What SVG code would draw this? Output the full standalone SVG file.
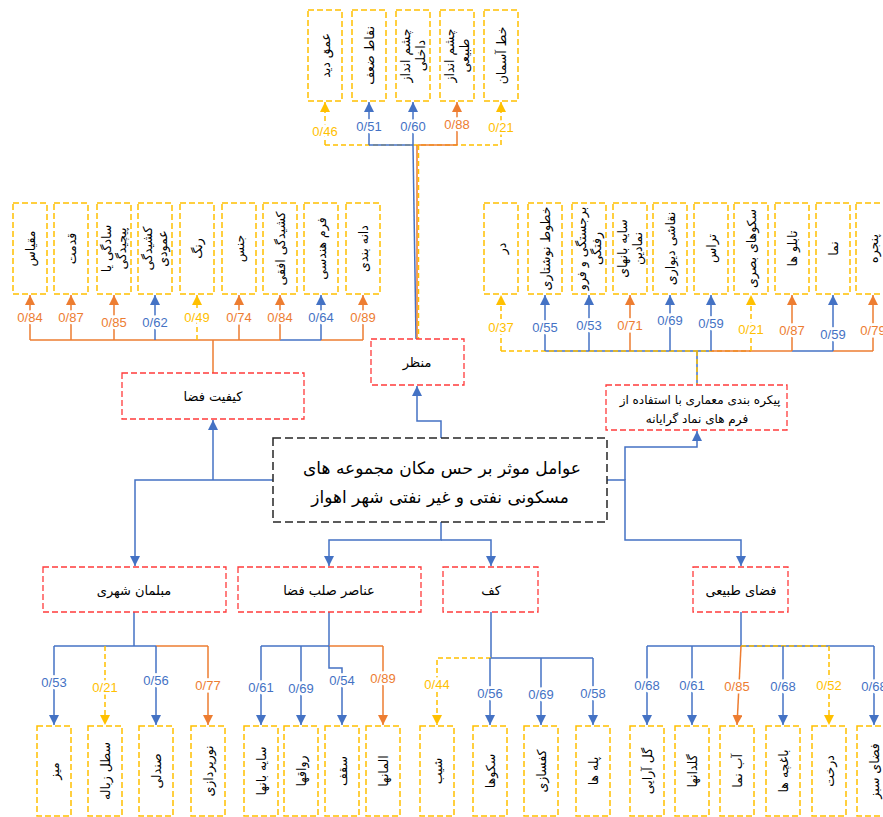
<svg xmlns="http://www.w3.org/2000/svg" width="883" height="817" viewBox="0 0 883 817">
<style>
.yb{fill:#fff;stroke:#FFC000;stroke-width:1.5;stroke-dasharray:6 3}
.rb{fill:#fff;stroke:#FF3B3B;stroke-width:1.3;stroke-dasharray:6 3}
.mb{fill:#fff;stroke:#262626;stroke-width:1.5;stroke-dasharray:8 4}
.b,.o,.y{fill:none;stroke-width:1.5}
.b{stroke:#4472C4}
.o{stroke:#ED7D31}
.y{stroke:#FFC000;stroke-dasharray:5 3}
.lbl{font-family:"Liberation Sans",Arial,sans-serif;font-size:13px;text-anchor:middle;paint-order:stroke;stroke:#fff;stroke-width:5px}
.lb{fill:#4472C4}.lo{fill:#ED7D31}.ly{fill:#FFC000}
.vt{font-family:"DejaVu Sans",sans-serif;font-size:12.5px;text-anchor:middle;fill:#000}
.ct{font-family:"DejaVu Sans",sans-serif;font-size:13px;text-anchor:middle;fill:#000}
.pt{font-family:"DejaVu Sans",sans-serif;font-size:12px;text-anchor:middle;fill:#000}
.mt{font-family:"DejaVu Sans",sans-serif;font-size:17px;text-anchor:middle;fill:#000}
</style>
<defs>
<marker id="ab" viewBox="0 0 10 10" refX="10" refY="5" markerWidth="10" markerHeight="10" markerUnits="userSpaceOnUse" orient="auto"><path d="M0,0L10,5L0,10z" fill="#4472C4"/></marker>
<marker id="ao" viewBox="0 0 10 10" refX="10" refY="5" markerWidth="10" markerHeight="10" markerUnits="userSpaceOnUse" orient="auto"><path d="M0,0L10,5L0,10z" fill="#ED7D31"/></marker>
<marker id="ay" viewBox="0 0 10 10" refX="10" refY="5" markerWidth="10" markerHeight="10" markerUnits="userSpaceOnUse" orient="auto"><path d="M0,0L10,5L0,10z" fill="#FFC000"/></marker>
</defs>
<rect width="883" height="817" fill="#fff"/>

<g id="connectors">
<path class="y" d="M325,145H501"/>
<path class="b" d="M369,145H413"/>
<path class="o" d="M418,145H457"/>
<path class="y" d="M325,145V102" marker-end="url(#ay)"/>
<path class="b" d="M369,145V102" marker-end="url(#ab)"/>
<path class="b" d="M413,145V102" marker-end="url(#ab)"/>
<path class="o" d="M457,145V102" marker-end="url(#ao)"/>
<path class="y" d="M501,145V102" marker-end="url(#ay)"/>
<path class="b" d="M413,145L416,339"/>
<path class="o" d="M417,145V339"/>
<path class="y" d="M418.5,145V339"/>
<path class="o" d="M30,340H280"/>
<path class="b" d="M280,340H321"/>
<path class="o" d="M321,340H363"/>
<path class="o" d="M30,340V295" marker-end="url(#ao)"/>
<path class="o" d="M71,340V295" marker-end="url(#ao)"/>
<path class="o" d="M114,340V295" marker-end="url(#ao)"/>
<path class="b" d="M155,340V295" marker-end="url(#ab)"/>
<path class="y" d="M197,340V295" marker-end="url(#ay)"/>
<path class="o" d="M239,340V295" marker-end="url(#ao)"/>
<path class="o" d="M280,340V295" marker-end="url(#ao)"/>
<path class="b" d="M321,340V295" marker-end="url(#ab)"/>
<path class="o" d="M363,340V295" marker-end="url(#ao)"/>
<path class="o" d="M213,340V373"/>
<path class="b" d="M545,351H711"/>
<path class="y" d="M501,351H751"/>
<path class="o" d="M711,351H792"/>
<path class="b" d="M792,351H833"/>
<path class="o" d="M833,351H873"/>
<path class="y" d="M501,351V295" marker-end="url(#ay)"/>
<path class="b" d="M545,351V295" marker-end="url(#ab)"/>
<path class="b" d="M589,351V295" marker-end="url(#ab)"/>
<path class="o" d="M630,351V295" marker-end="url(#ao)"/>
<path class="b" d="M670,351V295" marker-end="url(#ab)"/>
<path class="b" d="M711,351V295" marker-end="url(#ab)"/>
<path class="y" d="M751,351V295" marker-end="url(#ay)"/>
<path class="o" d="M792,351V295" marker-end="url(#ao)"/>
<path class="b" d="M833,351V295" marker-end="url(#ab)"/>
<path class="o" d="M873,351V295" marker-end="url(#ao)"/>
<path class="b" d="M697,351V385"/>
<path class="y" d="M697,351V385"/>
<path class="b" d="M441,438V421H417V386" marker-end="url(#ab)"/>
<path class="b" d="M273,480H135V566" marker-end="url(#ab)"/>
<path class="b" d="M213,480V420" marker-end="url(#ab)"/>
<path class="b" d="M607,480H625V540H741V566" marker-end="url(#ab)"/>
<path class="b" d="M625,480V447H697V431" marker-end="url(#ab)"/>
<path class="b" d="M441,522V540H329V566" marker-end="url(#ab)"/>
<path class="b" d="M441,540H491V566" marker-end="url(#ab)"/>
<path class="b" d="M134,612V646"/>
<path class="b" d="M54,646H156"/>
<path class="o" d="M156,646H208"/>
<path class="b" d="M54,646V725" marker-end="url(#ab)"/>
<path class="y" d="M105,646V725" marker-end="url(#ay)"/>
<path class="b" d="M156,646V725" marker-end="url(#ab)"/>
<path class="o" d="M208,646V725" marker-end="url(#ao)"/>
<path class="b" d="M329,612V646"/>
<path class="b" d="M261,646H329"/>
<path class="o" d="M329,646H383"/>
<path class="b" d="M261,646V725" marker-end="url(#ab)"/>
<path class="b" d="M301,646V725" marker-end="url(#ab)"/>
<path class="b" d="M329,646V668H342V725" marker-end="url(#ab)"/>
<path class="o" d="M383,646V725" marker-end="url(#ao)"/>
<path class="b" d="M491,612V658H593"/>
<path class="y" d="M491,658H437V725" marker-end="url(#ay)"/>
<path class="b" d="M490,658V725" marker-end="url(#ab)"/>
<path class="b" d="M541,658V725" marker-end="url(#ab)"/>
<path class="b" d="M593,658V725" marker-end="url(#ab)"/>
<path class="b" d="M741,612V646"/>
<path class="b" d="M647,646H874"/>
<path class="y" d="M741,646H829"/>
<path class="b" d="M647,646V725" marker-end="url(#ab)"/>
<path class="b" d="M692,646V725" marker-end="url(#ab)"/>
<path class="o" d="M741,646L737,725" marker-end="url(#ao)"/>
<path class="b" d="M783,646V725" marker-end="url(#ab)"/>
<path class="y" d="M829,646V725" marker-end="url(#ay)"/>
<path class="b" d="M874,646V725" marker-end="url(#ab)"/>
</g>

<g id="labels">
<text class="lbl ly" x="325" y="136">0/46</text>
<text class="lbl lb" x="369" y="131">0/51</text>
<text class="lbl lb" x="413" y="131">0/60</text>
<text class="lbl lo" x="457" y="129">0/88</text>
<text class="lbl ly" x="501" y="132">0/21</text>
<text class="lbl lo" x="30" y="322">0/84</text>
<text class="lbl lo" x="71" y="322">0/87</text>
<text class="lbl lo" x="114" y="327">0/85</text>
<text class="lbl lb" x="155" y="327">0/62</text>
<text class="lbl ly" x="197" y="322">0/49</text>
<text class="lbl lo" x="239" y="322">0/74</text>
<text class="lbl lo" x="280" y="322">0/84</text>
<text class="lbl lb" x="321" y="322">0/64</text>
<text class="lbl lo" x="363" y="322">0/89</text>
<text class="lbl ly" x="501" y="332">0/37</text>
<text class="lbl lb" x="545" y="332">0/55</text>
<text class="lbl lb" x="589" y="330">0/53</text>
<text class="lbl lo" x="630" y="330">0/71</text>
<text class="lbl lb" x="670" y="325">0/69</text>
<text class="lbl lb" x="711" y="328">0/59</text>
<text class="lbl ly" x="751" y="334">0/21</text>
<text class="lbl lo" x="792" y="335">0/87</text>
<text class="lbl lb" x="833" y="339">0/59</text>
<text class="lbl lo" x="873" y="335">0/79</text>
<text class="lbl lb" x="54" y="687">0/53</text>
<text class="lbl ly" x="105" y="692">0/21</text>
<text class="lbl lb" x="156" y="685">0/56</text>
<text class="lbl lo" x="208" y="690">0/77</text>
<text class="lbl lb" x="261" y="692">0/61</text>
<text class="lbl lb" x="301" y="693">0/69</text>
<text class="lbl lb" x="342" y="685">0/54</text>
<text class="lbl lo" x="383" y="683">0/89</text>
<text class="lbl ly" x="437" y="689">0/44</text>
<text class="lbl lb" x="490" y="698">0/56</text>
<text class="lbl lb" x="541" y="699">0/69</text>
<text class="lbl lb" x="593" y="698">0/58</text>
<text class="lbl lb" x="647" y="690">0/68</text>
<text class="lbl lb" x="692" y="690">0/61</text>
<text class="lbl lo" x="737" y="691">0/85</text>
<text class="lbl lb" x="783" y="691">0/68</text>
<text class="lbl ly" x="829" y="690">0/52</text>
<text class="lbl lb" x="874" y="691">0/68</text>
</g>

<g id="main"><rect class="mb" x="273" y="438" width="334" height="84"/>
<text class="mt" x="442" y="474">عوامل موثر بر حس مکان مجموعه های</text>
<text class="mt" x="440" y="503">مسکونی نفتی و غیر نفتی شهر اهواز</text></g>

<g id="n-keyfiyat"><rect class="rb" x="122" y="373" width="182" height="46"/><text class="ct" x="213" y="401">کیفیت فضا</text></g>
<g id="n-manzar"><rect class="rb" x="371" y="339" width="93" height="46"/><text class="ct" x="417" y="367">منظر</text></g>
<g id="n-peykare"><rect class="rb" x="606" y="385" width="181" height="45"/><text class="pt" x="700" y="404">پیکره بندی معماری با استفاده از</text><text class="pt" x="697" y="423">فرم های نماد گرایانه</text></g>
<g id="n-moblman"><rect class="rb" x="43" y="567" width="183" height="45"/><text class="ct" x="134" y="595">مبلمان شهری</text></g>
<g id="n-anaser"><rect class="rb" x="238" y="567" width="183" height="45"/><text class="ct" x="329" y="595">عناصر صلب فضا</text></g>
<g id="n-kaf"><rect class="rb" x="443" y="567" width="95" height="45"/><text class="ct" x="491" y="595">کف</text></g>
<g id="n-tabiei"><rect class="rb" x="693" y="567" width="95" height="45"/><text class="ct" x="741" y="595">فضای طبیعی</text></g>

<g id="t1"><rect class="yb" x="308" y="10" width="34" height="91"/><text class="vt" transform="translate(325,55.5) rotate(-90)" y="4.5">عمق دید</text></g>
<g id="t2"><rect class="yb" x="352" y="10" width="34" height="91"/><text class="vt" transform="translate(369,55.5) rotate(-90)" y="4.5">نقاط ضعف</text></g>
<g id="t3"><rect class="yb" x="396" y="10" width="34" height="91"/><text class="vt" transform="translate(413,55.5) rotate(-90)"><tspan x="0" y="-3">چشم انداز</tspan><tspan x="0" y="12">داخلی</tspan></text></g>
<g id="t4"><rect class="yb" x="440" y="10" width="34" height="91"/><text class="vt" transform="translate(457,55.5) rotate(-90)"><tspan x="0" y="-3">چشم انداز</tspan><tspan x="0" y="12">طبیعی</tspan></text></g>
<g id="t5"><rect class="yb" x="484" y="10" width="34" height="91"/><text class="vt" transform="translate(501,55.5) rotate(-90)" y="4.5">خط آسمان</text></g>

<g id="l1"><rect class="yb" x="13" y="203" width="34" height="91"/><text class="vt" transform="translate(30,248.5) rotate(-90)" y="4.5">مقیاس</text></g>
<g id="l2"><rect class="yb" x="54" y="203" width="34" height="91"/><text class="vt" transform="translate(71,248.5) rotate(-90)" y="4.5">قدمت</text></g>
<g id="l3"><rect class="yb" x="97" y="203" width="34" height="91"/><text class="vt" transform="translate(114,248.5) rotate(-90)"><tspan x="0" y="-3">سادگی یا</tspan><tspan x="0" y="12">پیچیدگی</tspan></text></g>
<g id="l4"><rect class="yb" x="138" y="203" width="34" height="91"/><text class="vt" transform="translate(155,248.5) rotate(-90)"><tspan x="0" y="-3">کشیدگی</tspan><tspan x="0" y="12">عمودی</tspan></text></g>
<g id="l5"><rect class="yb" x="180" y="203" width="34" height="91"/><text class="vt" transform="translate(197,248.5) rotate(-90)" y="4.5">رنگ</text></g>
<g id="l6"><rect class="yb" x="222" y="203" width="34" height="91"/><text class="vt" transform="translate(239,248.5) rotate(-90)" y="4.5">جنس</text></g>
<g id="l7"><rect class="yb" x="263" y="203" width="34" height="91"/><text class="vt" transform="translate(280,248.5) rotate(-90)" y="4.5">کشیدگی افقی</text></g>
<g id="l8"><rect class="yb" x="304" y="203" width="34" height="91"/><text class="vt" transform="translate(321,248.5) rotate(-90)" y="4.5">فرم هندسی</text></g>
<g id="l9"><rect class="yb" x="346" y="203" width="34" height="91"/><text class="vt" transform="translate(363,248.5) rotate(-90)" y="4.5">دانه بندی</text></g>

<g id="r1"><rect class="yb" x="484" y="203" width="34" height="91"/><text class="vt" transform="translate(501,248.5) rotate(-90)" y="4.5">در</text></g>
<g id="r2"><rect class="yb" x="528" y="203" width="34" height="91"/><text class="vt" transform="translate(545,248.5) rotate(-90)" y="4.5">خطوط نوشتاری</text></g>
<g id="r3"><rect class="yb" x="572" y="203" width="34" height="91"/><text class="vt" transform="translate(589,248.5) rotate(-90)"><tspan x="0" y="-3">برجستگی و فرو</tspan><tspan x="0" y="12">رفتگی</tspan></text></g>
<g id="r4"><rect class="yb" x="613" y="203" width="34" height="91"/><text class="vt" transform="translate(630,248.5) rotate(-90)"><tspan x="0" y="-3">سایه بانهای</tspan><tspan x="0" y="12">نمادین</tspan></text></g>
<g id="r5"><rect class="yb" x="653" y="203" width="34" height="91"/><text class="vt" transform="translate(670,248.5) rotate(-90)" y="4.5">نقاشی دیواری</text></g>
<g id="r6"><rect class="yb" x="694" y="203" width="34" height="91"/><text class="vt" transform="translate(711,248.5) rotate(-90)" y="4.5">تراس</text></g>
<g id="r7"><rect class="yb" x="734" y="203" width="34" height="91"/><text class="vt" transform="translate(751,248.5) rotate(-90)" y="4.5">سکوهای بصری</text></g>
<g id="r8"><rect class="yb" x="775" y="203" width="34" height="91"/><text class="vt" transform="translate(792,248.5) rotate(-90)" y="4.5">تابلو ها</text></g>
<g id="r9"><rect class="yb" x="816" y="203" width="34" height="91"/><text class="vt" transform="translate(833,248.5) rotate(-90)" y="4.5">نما</text></g>
<g id="r10"><rect class="yb" x="856" y="203" width="34" height="91"/><text class="vt" transform="translate(873,248.5) rotate(-90)" y="4.5">پنجره</text></g>

<g id="b1"><rect class="yb" x="37" y="726" width="34" height="90"/><text class="vt" transform="translate(54,771) rotate(-90)" y="4.5">میز</text></g>
<g id="b2"><rect class="yb" x="88" y="726" width="34" height="90"/><text class="vt" transform="translate(105,771) rotate(-90)" y="4.5">سطل زباله</text></g>
<g id="b3"><rect class="yb" x="139" y="726" width="34" height="90"/><text class="vt" transform="translate(156,771) rotate(-90)" y="4.5">صندلی</text></g>
<g id="b4"><rect class="yb" x="191" y="726" width="34" height="90"/><text class="vt" transform="translate(208,771) rotate(-90)" y="4.5">نورپردازی</text></g>
<g id="b5"><rect class="yb" x="244" y="726" width="34" height="90"/><text class="vt" transform="translate(261,771) rotate(-90)" y="4.5">سایه بانها</text></g>
<g id="b6"><rect class="yb" x="284" y="726" width="34" height="90"/><text class="vt" transform="translate(301,771) rotate(-90)" y="4.5">رواقها</text></g>
<g id="b7"><rect class="yb" x="325" y="726" width="34" height="90"/><text class="vt" transform="translate(342,771) rotate(-90)" y="4.5">سقف</text></g>
<g id="b8"><rect class="yb" x="366" y="726" width="34" height="90"/><text class="vt" transform="translate(383,771) rotate(-90)" y="4.5">المانها</text></g>
<g id="b9"><rect class="yb" x="420" y="726" width="34" height="90"/><text class="vt" transform="translate(437,771) rotate(-90)" y="4.5">شیب</text></g>
<g id="b10"><rect class="yb" x="473" y="726" width="34" height="90"/><text class="vt" transform="translate(490,771) rotate(-90)" y="4.5">سکوها</text></g>
<g id="b11"><rect class="yb" x="524" y="726" width="34" height="90"/><text class="vt" transform="translate(541,771) rotate(-90)" y="4.5">کفسازی</text></g>
<g id="b12"><rect class="yb" x="576" y="726" width="34" height="90"/><text class="vt" transform="translate(593,771) rotate(-90)" y="4.5">پله ها</text></g>
<g id="b13"><rect class="yb" x="630" y="726" width="34" height="90"/><text class="vt" transform="translate(647,771) rotate(-90)" y="4.5">گل آرایی</text></g>
<g id="b14"><rect class="yb" x="675" y="726" width="34" height="90"/><text class="vt" transform="translate(692,771) rotate(-90)" y="4.5">گلدانها</text></g>
<g id="b15"><rect class="yb" x="720" y="726" width="34" height="90"/><text class="vt" transform="translate(737,771) rotate(-90)" y="4.5">آب نما</text></g>
<g id="b16"><rect class="yb" x="766" y="726" width="34" height="90"/><text class="vt" transform="translate(783,771) rotate(-90)" y="4.5">باغچه ها</text></g>
<g id="b17"><rect class="yb" x="812" y="726" width="34" height="90"/><text class="vt" transform="translate(829,771) rotate(-90)" y="4.5">درخت</text></g>
<g id="b18"><rect class="yb" x="857" y="726" width="34" height="90"/><text class="vt" transform="translate(874,771) rotate(-90)" y="4.5">فضای سبز</text></g>
</svg>
